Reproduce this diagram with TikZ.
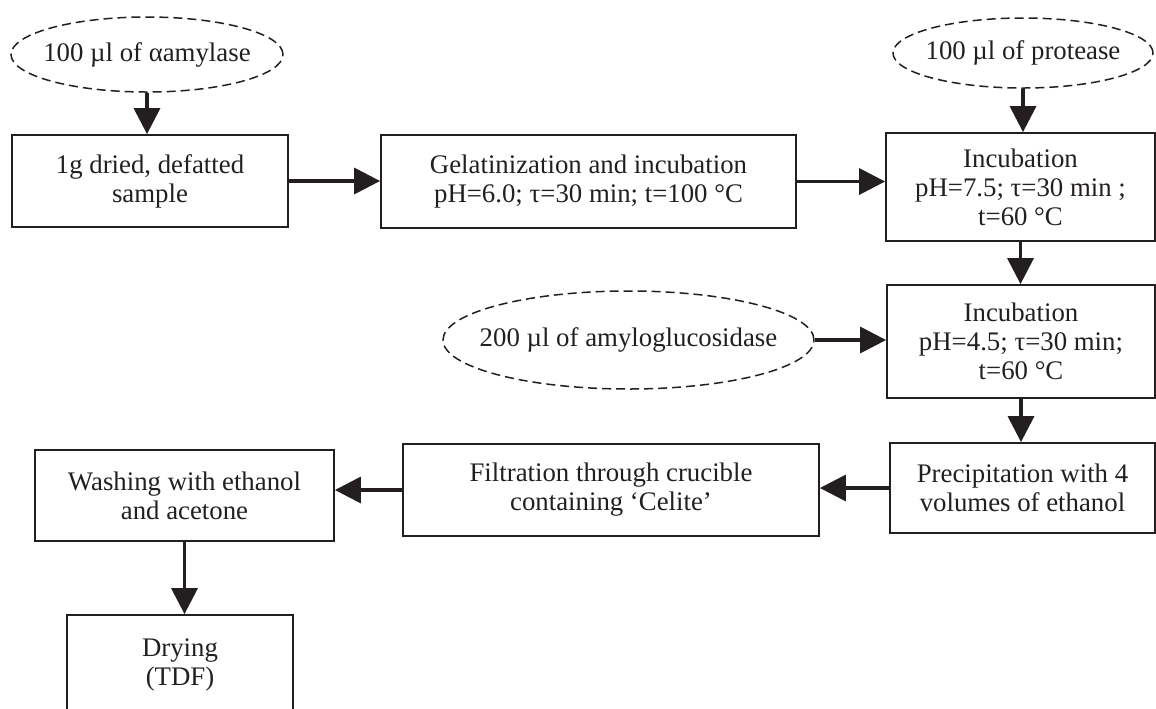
\documentclass[tikz,border=0pt]{standalone}
\usepackage{fontspec}
\setmainfont{Liberation Serif}
\usetikzlibrary{shapes.geometric,arrows.meta}
\definecolor{ink}{HTML}{231F20}

\begin{document}
\begin{tikzpicture}[x=0.5pt,y=-0.5pt]
\tikzset{procbox/.style={draw=ink, line width=0.9pt, align=center, text=ink,
                         font=\fontsize{13.4pt}{14.5pt}\selectfont, inner sep=0pt},
         enzyme/.style={draw=ink, ellipse, dashed, dash pattern=on 4.5pt off 2.5pt,
                        line width=0.75pt, inner sep=0pt, text=ink,
                        font=\fontsize{13.4pt}{14.5pt}\selectfont},
         flow/.style={draw=ink, line width=1.7pt, -{Triangle[length=13pt,width=13pt]}}}
\useasboundingbox (0,0) rectangle (1156,708);
\node[enzyme, minimum width=136pt, minimum height=37.5pt] (amy) at (147,54.5) {\makebox[0pt]{100 µl of αamylase}};
\node[enzyme, minimum width=130pt, minimum height=35pt] (prot) at (1023,53) {\makebox[0pt]{100 µl of protease}};
\node[enzyme, minimum width=185.5pt, minimum height=49pt] (amg) at (628.5,340) {\makebox[0pt]{200 µl of amyloglucosidase}};
\node[procbox, minimum width=138pt, minimum height=46pt] (samp) at (150,181) {1g dried, defatted\\sample};
\node[procbox, minimum width=207.5pt, minimum height=46.5pt] (gel) at (588.5,181.5) {Gelatinization and incubation\\pH=6.0; τ=30 min; t=100 °C};
\node[procbox, minimum width=134.5pt, minimum height=54pt] (incA) at (1020.5,187) {Incubation\\pH=7.5; τ=30 min ;\\t=60 °C};
\node[procbox, minimum width=134pt, minimum height=56.5pt] (incB) at (1021,341.5) {Incubation\\pH=4.5; τ=30 min;\\t=60 °C};
\node[procbox, minimum width=132.5pt, minimum height=45pt] (prec) at (1022.5,488) {Precipitation with 4\\volumes of ethanol};
\node[procbox, minimum width=208pt, minimum height=46pt] (filt) at (611,490) {Filtration through crucible\\containing ‘Celite’};
\node[procbox, minimum width=149.5pt, minimum height=45.5pt] (wash) at (184.5,495.5) {Washing with ethanol\\and acetone};
\node[procbox, minimum width=113pt, minimum height=50pt] (dry) at (180,665) {Drying\\(TDF)};
\draw[flow] (amy.south) -- (amy.south |- samp.north);
\draw[flow] (samp.east) -- (samp.east -| gel.west);
\draw[flow] (gel.east) -- (gel.east -| incA.west);
\draw[flow] (prot.south) -- (prot.south |- incA.north);
\draw[flow] (incA.south) -- (incA.south |- incB.north);
\draw[flow] (amg.east) -- (amg.east -| incB.west);
\draw[flow] (incB.south) -- (incB.south |- prec.north);
\draw[flow] (prec.west) -- (prec.west -| filt.east);
\draw[flow] (filt.west) -- (filt.west -| wash.east);
\draw[flow] (wash.south) -- (wash.south |- dry.north);
\end{tikzpicture}
\end{document}
